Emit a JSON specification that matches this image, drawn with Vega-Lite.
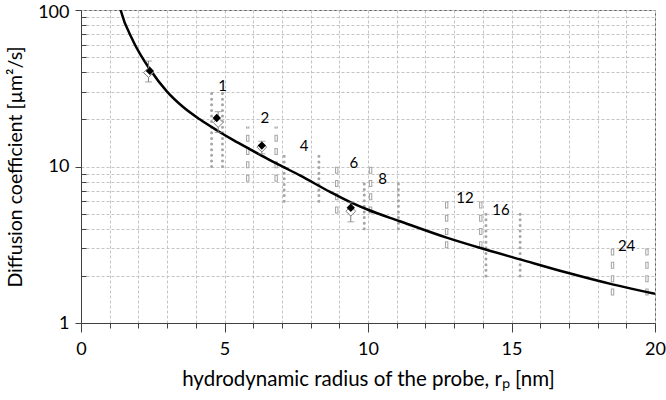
{
  "$schema": "https://vega.github.io/schema/vega-lite/v6.json",
  "width": 574,
  "height": 313,
  "autosize": {"type": "none"},
  "padding": {"left": 81, "top": 10, "right": 11, "bottom": 77},
  "config": {
    "font": "Lato",
    "view": {"stroke": "#595959", "strokeWidth": 1},
    "axis": {
      "labelFont": "Lato",
      "titleFont": "Lato",
      "labelFontSize": 18,
      "titleFontSize": 20,
      "labelColor": "#000000",
      "titleColor": "#000000",
      "titleFontWeight": "normal",
      "domainColor": "#404040",
      "tickColor": "#404040",
      "gridColor": "#c4c4c4",
      "gridDash": [3, 2],
      "gridWidth": 1
    }
  },
  "datasets": {
    "curve": [
      {"r": 1.33, "D": 109},
      {"r": 1.38, "D": 100},
      {"r": 1.82, "D": 63.2},
      {"r": 2.40, "D": 41.8},
      {"r": 2.99, "D": 30.2},
      {"r": 3.57, "D": 23.9},
      {"r": 4.15, "D": 19.95},
      {"r": 4.73, "D": 17.06},
      {"r": 5.31, "D": 14.74},
      {"r": 5.89, "D": 12.87},
      {"r": 6.47, "D": 11.27},
      {"r": 7.05, "D": 9.93},
      {"r": 7.63, "D": 8.77},
      {"r": 8.68, "D": 6.88},
      {"r": 9.40, "D": 5.90},
      {"r": 10.0, "D": 5.29},
      {"r": 11.11, "D": 4.47},
      {"r": 12.74, "D": 3.51},
      {"r": 13.98, "D": 2.99},
      {"r": 15.30, "D": 2.55},
      {"r": 16.92, "D": 2.10},
      {"r": 18.52, "D": 1.765},
      {"r": 20.0, "D": 1.536}
    ],
    "dots": [
      {"r": 4.55, "lo": 10, "hi": 30},
      {"r": 4.93, "lo": 10, "hi": 30},
      {"r": 7.08, "lo": 6, "hi": 12},
      {"r": 8.29, "lo": 6, "hi": 12},
      {"r": 9.87, "lo": 4, "hi": 8},
      {"r": 11.06, "lo": 4, "hi": 8},
      {"r": 14.11, "lo": 2, "hi": 5},
      {"r": 15.30, "lo": 2, "hi": 5}
    ],
    "rects": [
      {"r": 5.81, "lo": 8, "hi": 18},
      {"r": 6.80, "lo": 8, "hi": 18},
      {"r": 8.91, "lo": 5, "hi": 10},
      {"r": 10.09, "lo": 5, "hi": 10},
      {"r": 12.74, "lo": 3, "hi": 6},
      {"r": 13.93, "lo": 3, "hi": 6},
      {"r": 18.52, "lo": 1.5, "hi": 3},
      {"r": 19.72, "lo": 1.5, "hi": 3}
    ],
    "open": [
      {"r": 2.35, "D": 39.8, "lo": 34.7, "hi": 47.2},
      {"r": 4.78, "D": 19.1, "lo": 16.5, "hi": 22.4},
      {"r": 6.30, "D": 13.3, "lo": 12.05, "hi": 14.5},
      {"r": 9.40, "D": 5.18, "lo": 4.43, "hi": 5.9}
    ],
    "filled": [
      {"r": 2.40, "D": 40.8},
      {"r": 4.73, "D": 20.4},
      {"r": 6.30, "D": 13.6},
      {"r": 9.40, "D": 5.45}
    ],
    "labels": [
      {"r": 4.93, "D": 32.7, "t": "1"},
      {"r": 6.41, "D": 20.3, "t": "2"},
      {"r": 7.77, "D": 13.6, "t": "4"},
      {"r": 9.51, "D": 10.6, "t": "6"},
      {"r": 10.51, "D": 8.3, "t": "8"},
      {"r": 13.38, "D": 6.32, "t": "12"},
      {"r": 14.63, "D": 5.31, "t": "16"},
      {"r": 19.01, "D": 3.1, "t": "24"}
    ]
  },
  "encoding": {
    "x": {
      "field": "r",
      "type": "quantitative",
      "scale": {"domain": [0, 20], "nice": false, "zero": false},
      "axis": {
        "title": "hydrodynamic radius of the probe, rₚ [nm]",
        "titleFontSize": 20.5,
        "values": [0,1,2,3,4,5,6,7,8,9,10,11,12,13,14,15,16,17,18,19,20],
        "labelExpr": "datum.value % 5 == 0 ? datum.label : ''",
        "tickSize": {"condition": {"test": "datum.value % 5 == 0", "value": 9}, "value": 5},
        "labelPadding": 8,
        "titlePadding": 11,
        "grid": true,
        "labelFlush": false
      }
    }
  },
  "layer": [
    {
      "data": {"name": "dots"},
      "mark": {"type": "rule", "color": "#a6a6a6", "strokeWidth": 3, "strokeDash": [0.01, 5.6], "strokeCap": "round"},
      "encoding": {
        "y": {
          "field": "lo",
          "type": "quantitative",
          "scale": {"type": "log", "domain": [1, 100], "nice": false},
          "axis": {
            "title": "Diffusion coefficient [µm²/s]",
            "titleFontSize": 19.5,
            "values": [1,2,3,4,5,6,7,8,9,10,20,30,40,50,60,70,80,90,100],
            "labelExpr": "indexof([1,10,100], datum.value) >= 0 ? format(datum.value, 'd') : ''",
            "tickSize": {"condition": {"test": "indexof([1,10,100], datum.value) >= 0", "value": 6}, "value": -5},
            "labelOffset": {"condition": {"test": "datum.value == 100", "value": 2}, "value": 0},
            "labelPadding": 6,
            "titlePadding": 12,
            "grid": true
          }
        },
        "y2": {"field": "hi"}
      }
    },
    {
      "data": {"name": "rects"},
      "mark": {"type": "rule", "color": "#a6a6a6", "strokeWidth": 3.4, "strokeDash": [7, 6.3], "strokeCap": "butt"},
      "encoding": {
        "y": {"field": "lo", "type": "quantitative"},
        "y2": {"field": "hi"}
      }
    },
    {
      "data": {"name": "rects"},
      "mark": {"type": "rule", "color": "#ffffff", "strokeWidth": 1.3, "strokeDash": [5, 8.3], "strokeDashOffset": -1, "strokeCap": "butt"},
      "encoding": {
        "y": {"field": "lo", "type": "quantitative"},
        "y2": {"field": "hi"}
      }
    },
    {
      "data": {"name": "curve"},
      "mark": {"type": "line", "color": "#000000", "strokeWidth": 2.5, "interpolate": "monotone", "clip": true},
      "encoding": {
        "y": {"field": "D", "type": "quantitative"}
      }
    },
    {
      "data": {"name": "open"},
      "mark": {"type": "rule", "color": "#808080", "strokeWidth": 1},
      "encoding": {
        "y": {"field": "lo", "type": "quantitative"},
        "y2": {"field": "hi"}
      }
    },
    {
      "data": {"name": "open"},
      "mark": {"type": "tick", "orient": "horizontal", "color": "#808080", "size": 7, "thickness": 1},
      "encoding": {
        "y": {"field": "lo", "type": "quantitative"}
      }
    },
    {
      "data": {"name": "open"},
      "mark": {"type": "tick", "orient": "horizontal", "color": "#808080", "size": 7, "thickness": 1},
      "encoding": {
        "y": {"field": "hi", "type": "quantitative"}
      }
    },
    {
      "data": {"name": "open"},
      "mark": {"type": "point", "shape": "diamond", "filled": true, "fill": "#ffffff", "stroke": "#808080", "strokeWidth": 1, "size": 95, "opacity": 1},
      "encoding": {
        "y": {"field": "D", "type": "quantitative"}
      }
    },
    {
      "data": {"name": "filled"},
      "mark": {"type": "point", "shape": "diamond", "filled": true, "color": "#000000", "size": 70, "opacity": 1},
      "encoding": {
        "y": {"field": "D", "type": "quantitative"}
      }
    },
    {
      "data": {"name": "labels"},
      "mark": {"type": "text", "font": "Lato", "fontSize": 15, "color": "#000000"},
      "encoding": {
        "y": {"field": "D", "type": "quantitative"},
        "text": {"field": "t"}
      }
    }
  ]
}
